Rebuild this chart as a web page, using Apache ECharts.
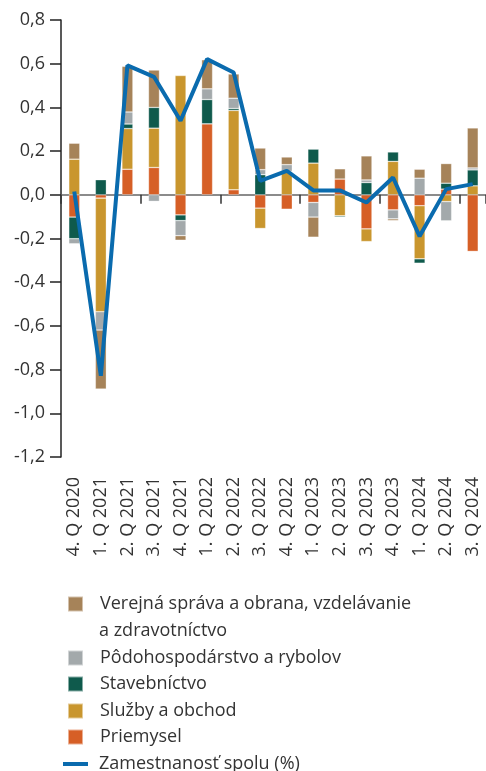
<!DOCTYPE html>
<html>
<head>
<meta charset="utf-8">
<script src="https://cdn.jsdelivr.net/npm/echarts@6/dist/echarts.min.js"></script>
<style>
html,body{margin:0;padding:0;background:#fff;}
#chart{width:486px;height:771px;}
</style>
</head>
<body>
<div id="chart"></div>
<script>
var categories = ["4. Q 2020","1. Q 2021","2. Q 2021","3. Q 2021","4. Q 2021","1. Q 2022","2. Q 2022","3. Q 2022","4. Q 2022","1. Q 2023","2. Q 2023","3. Q 2023","4. Q 2023","1. Q 2024","2. Q 2024","3. Q 2024"];
var priemysel = [-0.102,-0.015,0.117,0.125,-0.092,0.325,0.023,-0.061,-0.066,-0.035,0.072,-0.156,-0.069,-0.050,0.026,-0.259];
var sluzby = [0.163,-0.520,0.186,0.180,0.546,0,0.363,-0.093,0.107,0.145,-0.096,-0.058,0.153,-0.243,-0.031,0.041];
var stavebnictvo = [-0.099,0.069,0.021,0.095,-0.026,0.111,0.009,0.092,0,0.064,-0.006,0.056,0.043,-0.020,0.027,0.073];
var podohospodarstvo = [-0.023,-0.084,0.055,-0.030,-0.069,0.049,0.047,0.023,0.031,-0.067,0,0.012,-0.041,0.076,-0.088,0.009];
var verejna = [0.073,-0.270,0.209,0.171,-0.021,0.133,0.111,0.099,0.035,-0.092,0.047,0.110,-0.008,0.041,0.090,0.183];
var zamestnanost = [0.015,-0.828,0.592,0.540,0.339,0.621,0.560,0.064,0.110,0.020,0.020,-0.035,0.079,-0.190,0.026,0.049];
var yTicks = {min:-1.2, max:0.8, interval:0.2};

var names = {
  ver: "Verejná správa a obrana, vzdelávanie",
  pod: "Pôdohospodárstvo a rybolov",
  sta: "Stavebníctvo",
  slu: "Služby a obchod",
  pri: "Priemysel",
  zam: "Zamestnanosť spolu (%)"
};
var colors = {pri:"#D65F26", slu:"#C9962E", sta:"#0F5A4C", pod:"#A3A9AB", ver:"#A68359", zam:"#0A6BAE"};
var FONT = "Open Sans";

function bar(key, data){
  return {
    name: names[key], type: "bar", stack: "total", data: data,
    barWidth: 11, xAxisIndex: 0,
    itemStyle: {color: colors[key], borderColor: "rgba(255,255,255,0.5)", borderWidth: 0.6},
    emphasis: {disabled: true}
  };
}

function leg(name, top, isLine){
  return {
    data: [name], top: top, left: isLine ? 58 : 62, orient: "vertical",
    itemWidth: isLine ? 25 : 15, itemHeight: isLine ? 4 : 15,
    icon: "rect", selectedMode: false,
    textStyle: {fontFamily: FONT, fontSize: 18, color: "#333", padding: [0,0,0,isLine ? 6 : 12]}
  };
}

var chart = echarts.init(document.getElementById("chart"), null, {renderer: "canvas"});
chart.setOption({
  animation: false,
  textStyle: {fontFamily: FONT},
  grid: {left: 61, top: 20, width: 425, height: 437, containLabel: false},
  legend: [
    leg(names.ver, 590, false),
    leg(names.pod, 644, false),
    leg(names.sta, 670, false),
    leg(names.slu, 697, false),
    leg(names.pri, 723, false),
    leg(names.zam, 750, true)
  ],
  graphic: [{
    type: "text", left: 99, top: 622,
    style: {text: "a zdravotníctvo", fontFamily: FONT, fontSize: 18, fill: "#333"}
  }],
  xAxis: [{
    type: "category", data: categories, position: "bottom",
    axisLine: {show: false, onZero: false},
    axisTick: {show: false},
    axisLabel: {rotate: 90, margin: 20, fontFamily: FONT, fontSize: 18, color: "#333", interval: 0}
  },{
    type: "category", data: categories, position: "bottom",
    axisLine: {show: true, onZero: true, lineStyle: {color: "#666", width: 1.5}},
    axisTick: {show: true, length: 9, inside: false, lineStyle: {color: "#333", width: 1.5}},
    axisLabel: {show: false}
  }],
  yAxis: {
    type: "value", min: yTicks.min, max: yTicks.max, interval: yTicks.interval,
    axisLine: {show: true, lineStyle: {color: "#222", width: 1.5}},
    axisTick: {show: true, length: 11, lineStyle: {color: "#222", width: 1.5}},
    splitLine: {show: false},
    axisLabel: {
      margin: 16, fontFamily: FONT, fontSize: 18, color: "#333",
      formatter: function(v){ return v.toFixed(1).replace(".", ","); }
    }
  },
  series: [
    bar("pri", priemysel),
    bar("slu", sluzby),
    bar("sta", stavebnictvo),
    bar("pod", podohospodarstvo),
    bar("ver", verejna),
    {
      name: names.zam, type: "line", data: zamestnanost, xAxisIndex: 0,
      symbol: "none", z: 10,
      lineStyle: {color: colors.zam, width: 4},
      itemStyle: {color: colors.zam},
      emphasis: {disabled: true}
    }
  ]
});
</script>
</body>
</html>
